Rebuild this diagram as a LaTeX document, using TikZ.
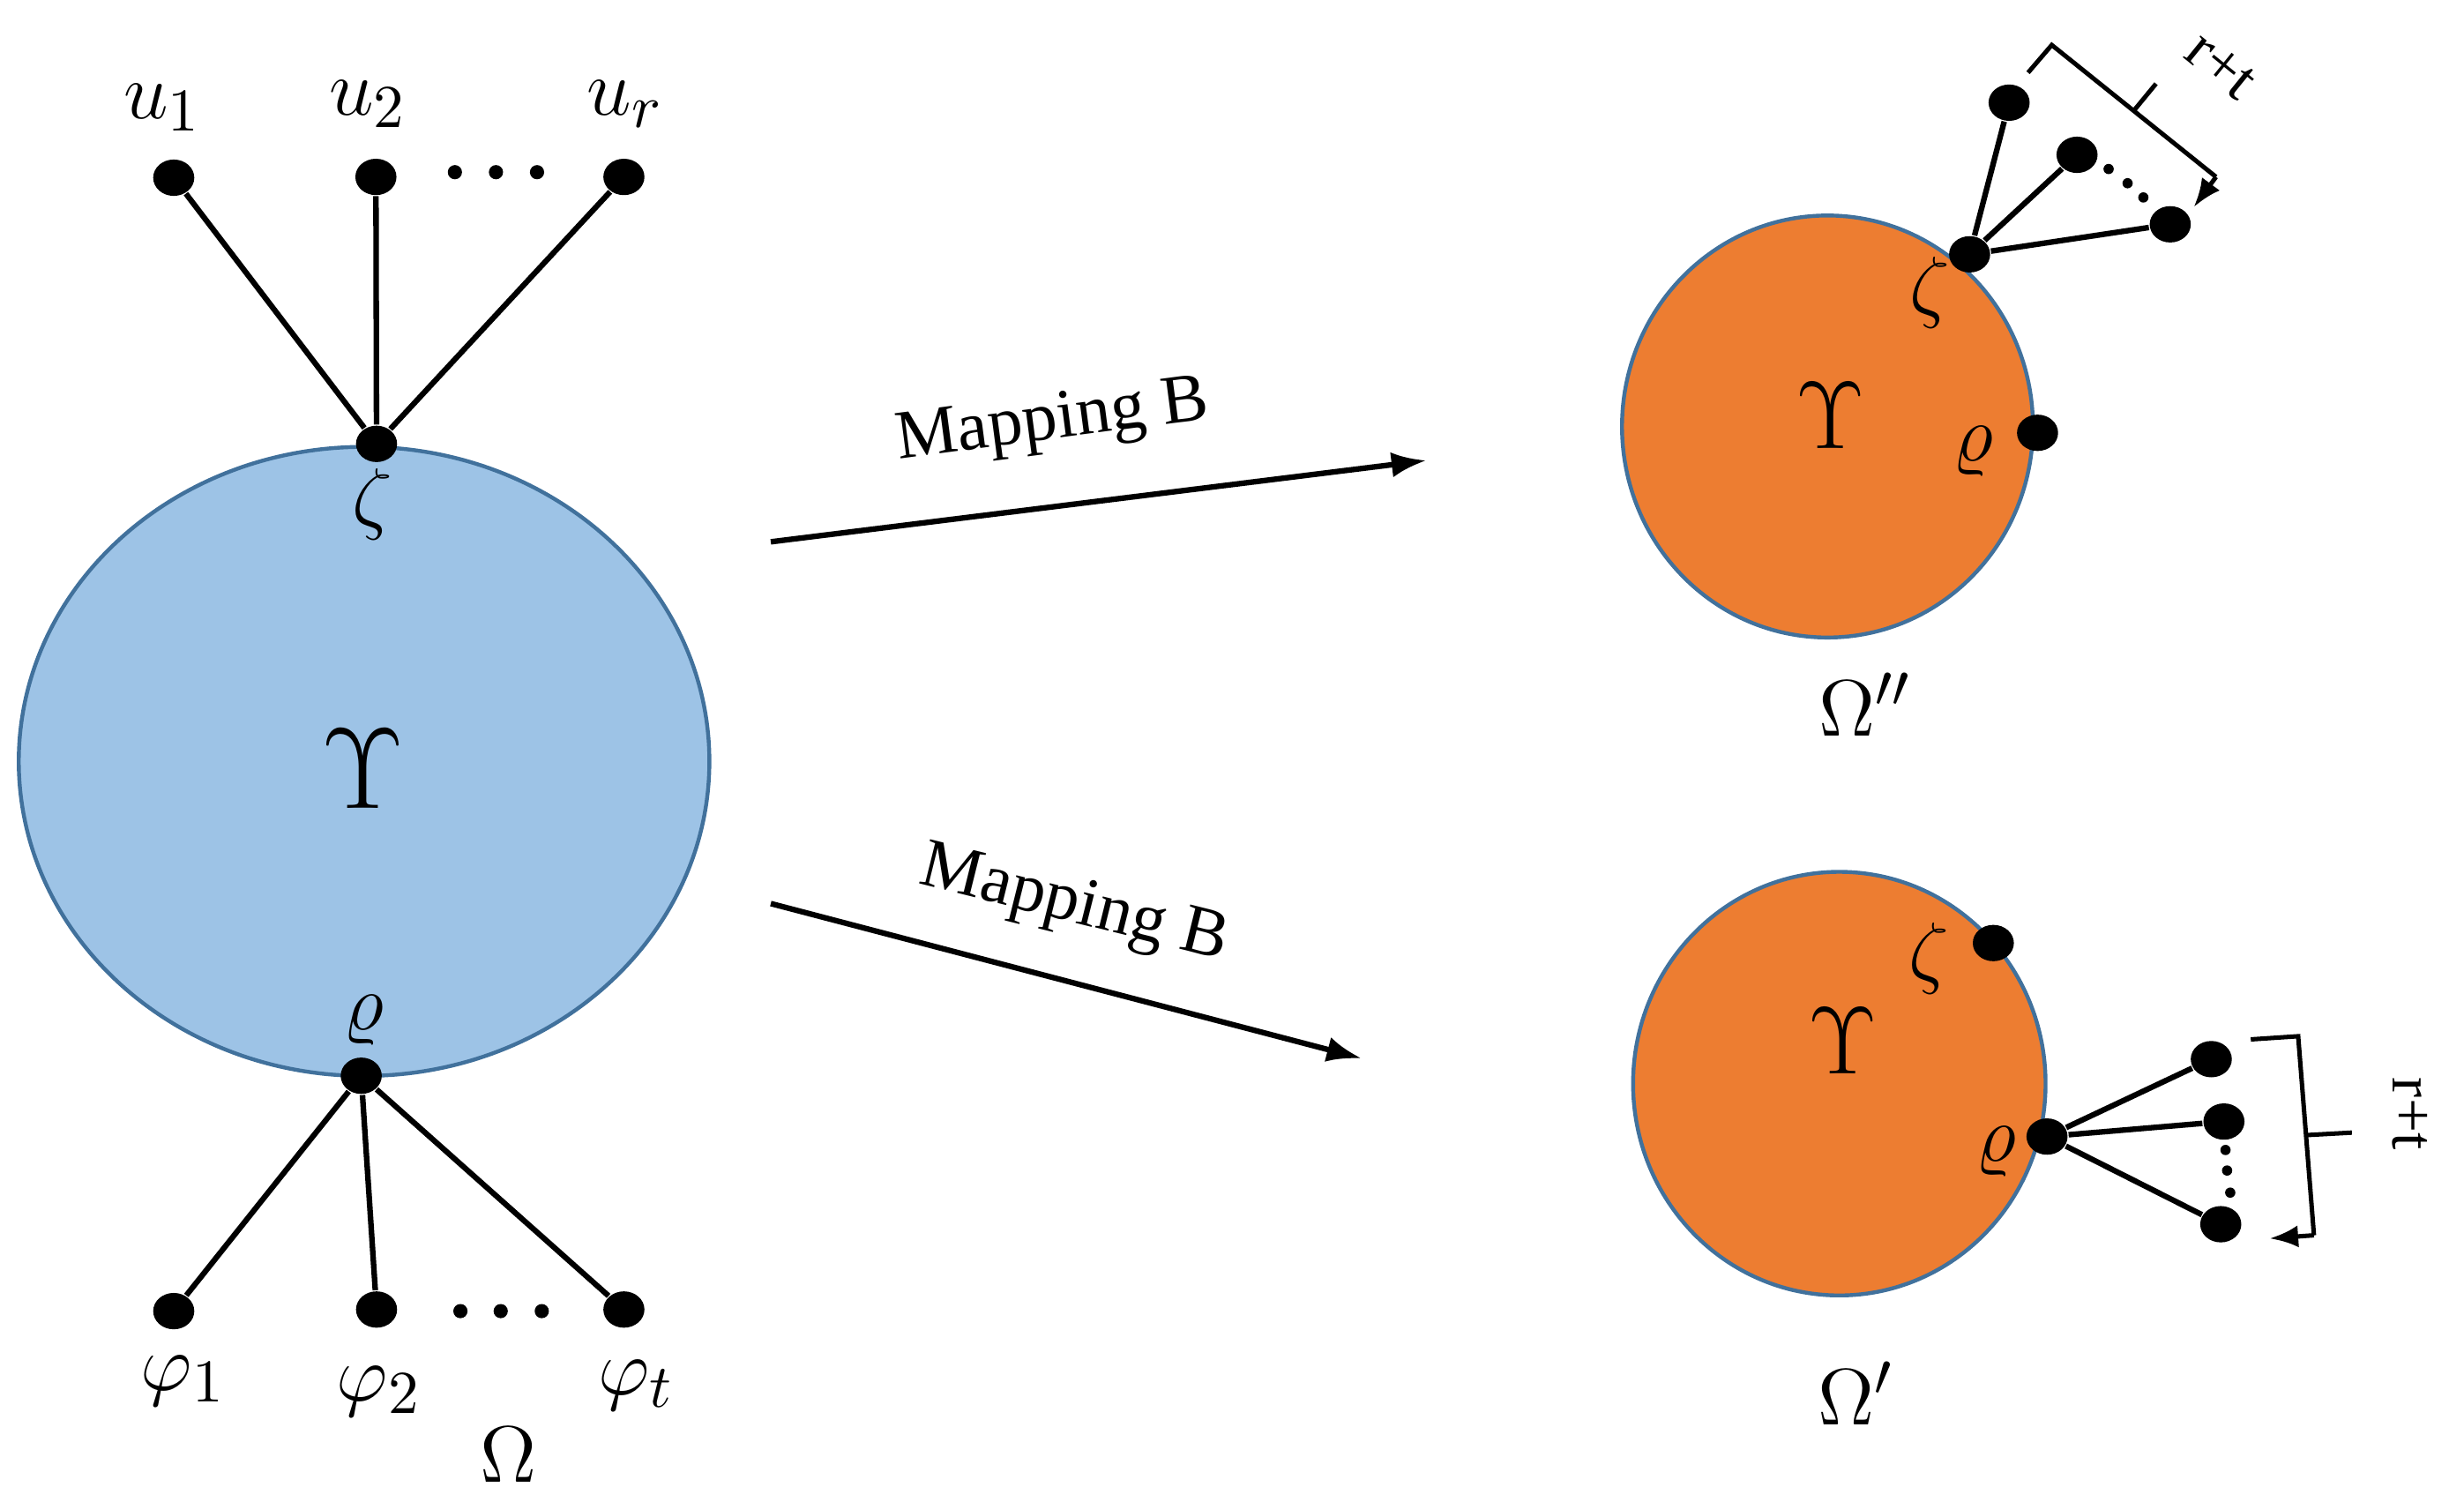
\documentclass[tikz,border=0pt]{standalone}
\usepackage{fontspec}
\newfontfamily\tnr{Liberation Serif}
\usetikzlibrary{shapes.geometric,arrows.meta}
\definecolor{bluefill}{HTML}{9DC3E6}
\definecolor{orangefill}{HTML}{ED7D31}
\definecolor{bordcol}{HTML}{41719C}
\tikzset{
  dot/.style={ellipse, fill=black, inner sep=0pt, minimum width=0.26cm, minimum height=0.23cm},
  sdot/.style={circle, fill=black, inner sep=0pt, minimum size=0.09cm},
  tdot/.style={circle, fill=black, inner sep=0pt, minimum size=0.065cm},
  edge/.style={line width=1pt},
  blob/.style={ellipse, draw=bordcol, line width=0.7pt, inner sep=0pt},
  mlab/.style={inner sep=0pt, font=\fontsize{15}{17}\selectfont},
  slab/.style={inner sep=0pt, font=\fontsize{13.5}{15}\selectfont},
  biglab/.style={inner sep=0pt, font=\fontsize{21}{24}\selectfont},
  medlab/.style={inner sep=0pt, font=\fontsize{18}{20}\selectfont},
  maptext/.style={inner sep=0pt, font=\tnr\fontsize{12.5}{14}\selectfont},
  rtlab/.style={inner sep=0pt, font=\tnr\fontsize{11}{12}\selectfont},
  maparrow/.style={line width=1pt, -{Latex[length=2.2mm,width=1.6mm]}},
  brack/.style={line width=0.8pt},
  brackarrow/.style={line width=0.8pt, -{Latex[length=1.8mm,width=1.4mm]}},
}
\begin{document}
\begin{tikzpicture}[x=0.01cm,y=-0.01cm]
\useasboundingbox (0,0) rectangle (1560,950.3);

% ---------------- left graph ----------------
\node[blob, fill=bluefill, minimum width=4.37cm, minimum height=3.98cm] (Lell) at (230.5,482) {};
\node[biglab] (LU) at (230,487) {$\Upsilon$};

\node[dot] (u1) at (110,112.5) {};
\node[dot] (u2) at (238,112) {};
\node[dot] (ur) at (395,112) {};
\node[sdot] (ud1) at (288,109) {};
\node[sdot] (ud2) at (314,109) {};
\node[sdot] (ud3) at (340,109) {};
\node[dot] (z) at (238.4,281) {};
\draw[edge] (u1) -- (z);
\draw[edge] (u2) -- (z);
\draw[edge] (ur) -- (z);

\node[mlab] (lu1) at (103,68) {$u_1$};
\node[mlab] (lu2) at (233,66) {$u_2$};
\node[mlab] (lur) at (396,66) {$u_r$};
\node[mlab] (lz) at (236,319) {$\zeta$};
\node[mlab] (lr) at (230,646) {$\varrho$};

\node[dot] (r) at (228.7,681) {};
\node[dot] (p1) at (110,830) {};
\node[dot] (p2) at (238.4,829) {};
\node[dot] (pt) at (395,829) {};
\node[sdot] (pd1) at (291.5,830) {};
\node[sdot] (pd2) at (317,830) {};
\node[sdot] (pd3) at (343,830) {};
\draw[edge] (r) -- (p1);
\draw[edge] (r) -- (p2);
\draw[edge] (r) -- (pt);

\node[mlab] (lp1) at (116,874) {$\varphi_1$};
\node[mlab] (lp2) at (240,881) {$\varphi_2$};
\node[mlab] (lpt) at (403,877) {$\varphi_t$};
\node[mlab] (lO) at (322,921) {$\Omega$};

% ---------------- arrows ----------------
\coordinate (a1s) at (488,343);
\coordinate (a1e) at (903,291.5);
\draw[maparrow] (a1s) -- (a1e);
\node[maptext, rotate=7.5] (m1) at (666.5,268) {Mapping B};

\coordinate (a2s) at (488,572);
\coordinate (a2e) at (862,670);
\draw[maparrow] (a2s) -- (a2e);
\node[maptext, rotate=-14] (m2) at (680,574) {Mapping B};

% ---------------- top right ----------------
\node[blob, fill=orangefill, minimum width=2.6cm, minimum height=2.67cm] (Tell) at (1157,270) {};
\node[medlab] (TU) at (1159,263) {$\Upsilon$};
\node[dot] (tz) at (1247,161) {};
\node[slab] (ltz) at (1222,185) {$\zeta$};
\node[dot] (tr) at (1290,274) {};
\node[slab] (ltr) at (1249,286) {$\varrho$};
\node[dot] (f1) at (1272,65) {};
\node[dot] (f2) at (1315,98) {};
\node[dot] (f3) at (1374,142) {};
\draw[edge] (tz) -- (f1);
\draw[edge] (tz) -- (f2);
\draw[edge] (tz) -- (f3);
\node[tdot] (fd1) at (1335,107) {};
\node[tdot] (fd2) at (1347,116) {};
\node[tdot] (fd3) at (1357,125) {};
\coordinate (tb0) at (1284,46);
\coordinate (tb1) at (1299,28.5);
\coordinate (tb2) at (1403,112);
\coordinate (tb3) at (1389,131);
\draw[brack] (tb0) -- (tb1) -- (tb2);
\draw[brackarrow] (tb2) -- (tb3);
\coordinate (tt0) at (1351,70);
\coordinate (tt1) at (1365,53);
\draw[brack] (tt0) -- (tt1);
\node[rtlab, rotate=-39] (trt) at (1406,42) {r+t};
\node[mlab] (lO2) at (1181,446) {$\Omega''$};

% ---------------- bottom right ----------------
\node[blob, fill=orangefill, minimum width=2.61cm, minimum height=2.68cm] (Bell) at (1164.5,686) {};
\node[medlab] (BU) at (1167,659) {$\Upsilon$};
\node[dot] (bz) at (1262,597) {};
\node[slab] (lbz) at (1221,607) {$\zeta$};
\node[dot] (br) at (1296,719.5) {};
\node[slab] (lbr) at (1264,729) {$\varrho$};
\node[dot] (g1) at (1400,670.5) {};
\node[dot] (g2) at (1408,710) {};
\node[dot] (g3) at (1406,775) {};
\draw[edge] (br) -- (g1);
\draw[edge] (br) -- (g2);
\draw[edge] (br) -- (g3);
\node[tdot] (gd1) at (1409,728) {};
\node[tdot] (gd2) at (1410,741) {};
\node[tdot] (gd3) at (1412,755) {};
\coordinate (bb0) at (1425,658);
\coordinate (bb1) at (1455,656);
\coordinate (bb2) at (1465,782);
\coordinate (bb3) at (1437,784);
\draw[brack] (bb0) -- (bb1) -- (bb2);
\draw[brackarrow] (bb2) -- (bb3);
\coordinate (bt0) at (1460,718.6);
\coordinate (bt1) at (1489,717);
\draw[brack] (bt0) -- (bt1);
\node[rtlab, rotate=-90] (brt) at (1526,705) {r+t};
\node[mlab] (lO1) at (1175,882) {$\Omega'$};
\end{tikzpicture}
\end{document}
